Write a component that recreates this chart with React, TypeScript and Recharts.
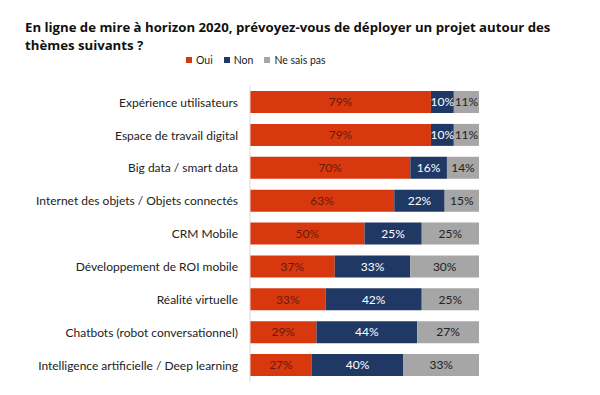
import React from "react";
import { BarChart, Bar, XAxis, YAxis, LabelList } from "recharts";

const categories = [
  "Expérience utilisateurs",
  "Espace de travail digital",
  "Big data / smart data",
  "Internet des objets / Objets connectés",
  "CRM Mobile",
  "Développement de ROI mobile",
  "Réalité virtuelle",
  "Chatbots (robot conversationnel)",
  "Intelligence artificielle / Deep learning",
];
const oui = [79, 79, 70, 63, 50, 37, 33, 29, 27];
const non = [10, 10, 16, 22, 25, 33, 42, 44, 40];
const nsp = [11, 11, 14, 15, 25, 30, 25, 27, 33];
const seriesNames = ["Oui", "Non", "Ne sais pas"];
const seriesColors = ["#D8380E", "#1F3864", "#A6A6A6"];

const data = categories.map((name, i) => ({ name, oui: oui[i], non: non[i], nsp: nsp[i] }));

const FONT = "Lato, 'Open Sans', sans-serif";
const pct = (v: any) => `${v}%`;

export default function App() {
  return (
    <div style={{ position: "absolute", left: 0, top: 0, width: 600, height: 395, background: "#fff", fontFamily: FONT }}>
      <div style={{ position: "absolute", left: 25, top: 18, width: 528, fontSize: 13.2, fontWeight: 700, lineHeight: "18px", color: "#111", fontFamily: "'Open Sans', sans-serif" }}>
        En ligne de mire à horizon 2020, prévoyez-vous de déployer un projet autour des thèmes suivants ?
      </div>
      {/* legend */}
      <div style={{ position: "absolute", left: 186, top: 54, display: "flex", gap: 11, fontSize: 10.5, color: "#222", lineHeight: "12px" }}>
        {seriesNames.map((n, i) => (
          <div key={n} style={{ display: "flex", alignItems: "center" }}>
            <span style={{ width: 6, height: 6, background: seriesColors[i], marginRight: 4, display: "inline-block" }} />
            {n}
          </div>
        ))}
      </div>
      <BarChart
        width={600}
        height={395}
        data={data}
        layout="vertical"
        margin={{ top: 86, right: 121, bottom: 13, left: 0 }}
        barSize={22}
      >
        <XAxis type="number" domain={[0, 100]} hide />
        <YAxis
          type="category"
          dataKey="name"
          width={250}
          tickLine={false}
          tickSize={6}
          tickMargin={6}
          axisLine={{ stroke: "#d9d9d9" }}
          tick={{ fontSize: 12, fill: "#222", fontFamily: FONT }}
          interval={0}
        />
        <Bar dataKey="oui" name="Oui" stackId="a" fill={seriesColors[0]} isAnimationActive={false}>
          <LabelList dataKey="oui" position="center" formatter={pct} style={{ fill: "#6a1a08", fontSize: 12, fontFamily: FONT }} />
        </Bar>
        <Bar dataKey="non" name="Non" stackId="a" fill={seriesColors[1]} isAnimationActive={false}>
          <LabelList dataKey="non" position="center" formatter={pct} style={{ fill: "#fff", fontSize: 12, fontFamily: FONT }} />
        </Bar>
        <Bar dataKey="nsp" name="Ne sais pas" stackId="a" fill={seriesColors[2]} isAnimationActive={false}>
          <LabelList dataKey="nsp" position="center" formatter={pct} style={{ fill: "#222", fontSize: 12, fontFamily: FONT }} />
        </Bar>
      </BarChart>
    </div>
  );
}
